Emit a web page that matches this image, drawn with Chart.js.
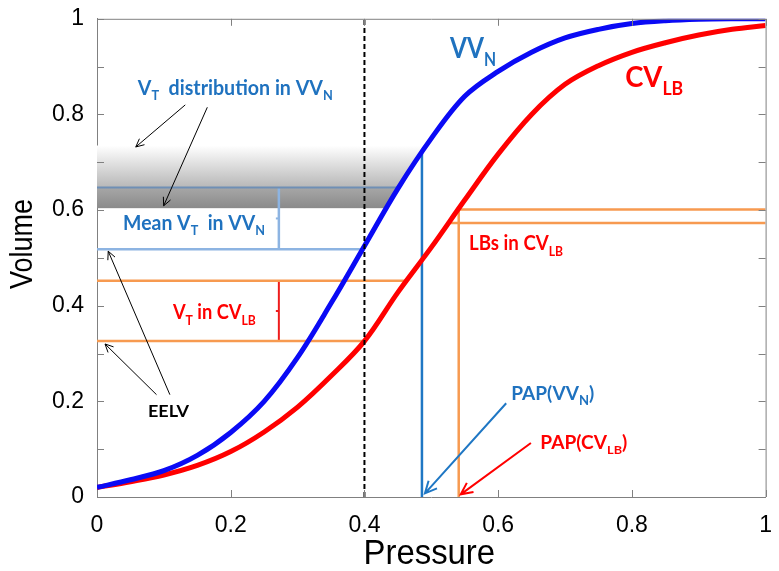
<!DOCTYPE html>
<html lang="en">
<head>
    <meta charset="UTF-8">
    <title>Pressure - Volume curves</title>
    <script src="https://cdn.jsdelivr.net/npm/chart.js"></script>
    <style>
        body { margin: 0; background: #fff; }
        #wrap { width: 779px; height: 571px; }
    </style>
</head>
<body>
<div id="wrap"><canvas id="pvChart" width="779" height="571"></canvas></div>

<script>
// pressure samples and the two volume curves
const pressure = [0, 0.05, 0.1, 0.15, 0.2, 0.25, 0.3, 0.35, 0.4, 0.45, 0.5,
                  0.55, 0.6, 0.65, 0.7, 0.75, 0.8, 0.85, 0.9, 0.95, 1];
const vvN  = [0.020, 0.036, 0.055, 0.087, 0.135, 0.200, 0.292, 0.405, 0.525, 0.645, 0.750,
              0.838, 0.890, 0.930, 0.960, 0.978, 0.990, 0.996, 0.999, 1.000, 1.000];
const cvLB = [0.020, 0.032, 0.046, 0.066, 0.095, 0.136, 0.188, 0.253, 0.326, 0.428, 0.522,
              0.621, 0.717, 0.800, 0.863, 0.902, 0.930, 0.950, 0.966, 0.978, 0.986];

// tick labels
const xTickLabels = ['0', '0.2', '0.4', '0.6', '0.8', '1'];
const yTickLabels = ['0', '0.2', '0.4', '0.6', '0.8', '1'];

// reference levels
const peepPressure = 0.4;
const eelvVVN = 0.518, meanVtVVN = 0.647, vvNMeanEnd = 0.451;
const eelvCVLB = 0.326, endInspCVLB = 0.452, cvLBEnd = 0.463;
const papVVN = 0.486, papVVNVolume = 0.721;
const papCVLB = 0.541, lbsTop = 0.601, lbsBottom = 0.573, lbsBottomStart = 0.523;
const vtBand = [0.604, 0.735];
const bracketX = 0.272;

const BLUE_TXT = '#1f72bf';
const ORANGE = '#f79a50';

function seg(x1, y1, x2, y2, color, width, dash) {
    return {
        data: [{x: x1, y: y1}, {x: x2, y: y2}],
        borderColor: color,
        borderWidth: width,
        borderDash: dash || [],
        pointRadius: 0,
        tension: 0,
        order: 5
    };
}

const refSets = [
    seg(0, meanVtVVN, vvNMeanEnd, meanVtVVN, '#6f8fb5', 2),
    seg(0, eelvVVN, peepPressure, eelvVVN, '#8db4e2', 2.5),
    seg(bracketX, eelvVVN, bracketX, meanVtVVN, '#8db4e2', 2.5),
    seg(0, endInspCVLB, cvLBEnd, endInspCVLB, ORANGE, 2.5),
    seg(0, eelvCVLB, peepPressure, eelvCVLB, ORANGE, 2.5),
    seg(bracketX, eelvCVLB, bracketX, endInspCVLB, '#ee1c1c', 2),
    seg(papVVN, 0, papVVN, papVVNVolume, '#1f77c4', 2.5),
    seg(papCVLB, 0, papCVLB, lbsTop, ORANGE, 2.5),
    seg(papCVLB, lbsTop, 1, lbsTop, ORANGE, 2.5),
    seg(lbsBottomStart, lbsBottom, 1, lbsBottom, ORANGE, 2.5)
];

// annotation texts: parts are [text, isSubscript]
const labels = [
    {parts: [['VV', 0], ['N', 1]], x: 0.528, y: 0.917, size: 28, w: 46, color: BLUE_TXT},
    {parts: [['CV', 0], ['LB', 1]], x: 0.790, y: 0.858, size: 28, w: 58, color: '#f00'},
    {parts: [['V', 0], ['T', 1], ['  distribution in VV', 0], ['N', 1]], x: 0.061, y: 0.841, size: 20, w: 195, color: BLUE_TXT},
    {parts: [['Mean V', 0], ['T', 1], ['  in VV', 0], ['N', 1]], x: 0.039, y: 0.559, size: 20, w: 142, color: BLUE_TXT},
    {parts: [['V', 0], ['T', 1], [' in CV', 0], ['LB', 1]], x: 0.1135, y: 0.373, size: 21, w: 83, color: '#f00'},
    {parts: [['LBs in CV', 0], ['LB', 1]], x: 0.5565, y: 0.516, size: 20, w: 94, color: '#f00'},
    {parts: [['EELV', 0]], x: 0.0763, y: 0.1666, size: 17, w: 41, color: '#000'},
    {parts: [['PAP(VV', 0], ['N', 1], [')', 0]], x: 0.6195, y: 0.2027, size: 19, w: 83, color: BLUE_TXT},
    {parts: [['PAP(CV', 0], ['LB', 1], [')', 0]], x: 0.663, y: 0.101, size: 18, w: 87, color: '#f00'}
];

// arrows: from -> to, in data units
const arrows = [
    {from: [0.132, 0.820], to: [0.058, 0.732], color: '#000', width: 1, head: 9},
    {from: [0.165, 0.815], to: [0.0997, 0.609], color: '#000', width: 1, head: 9},
    {from: [0.109, 0.214], to: [0.0168, 0.514], color: '#000', width: 1, head: 9},
    {from: [0.089, 0.214], to: [0.012, 0.320], color: '#000', width: 1, head: 9},
    {from: [0.612, 0.196], to: [0.4905, 0.0077], color: '#1f77c4', width: 2, head: 13},
    {from: [0.649, 0.113], to: [0.544, 0.0056], color: '#f00', width: 2, head: 13}
];

function drawArrow(ctx, x1, y1, x2, y2, head) {
    const a = Math.atan2(y2 - y1, x2 - x1);
    ctx.beginPath();
    ctx.moveTo(x1, y1);
    ctx.lineTo(x2, y2);
    ctx.moveTo(x2 - head * Math.cos(a - 0.45), y2 - head * Math.sin(a - 0.45));
    ctx.lineTo(x2, y2);
    ctx.lineTo(x2 - head * Math.cos(a + 0.45), y2 - head * Math.sin(a + 0.45));
    ctx.stroke();
}

function drawRich(ctx, lab, px, py) {
    const font = s => 'bold ' + s + 'px Lato, "Open Sans", sans-serif';
    const sub = Math.round(lab.size * 0.66);
    let total = 0;
    lab.parts.forEach(p => { ctx.font = font(p[1] ? sub : lab.size); total += ctx.measureText(p[0]).width; });
    ctx.save();
    ctx.translate(px, py);
    ctx.scale(lab.w / total, 1);
    ctx.fillStyle = lab.color;
    ctx.textBaseline = 'alphabetic';
    let x = 0;
    lab.parts.forEach(p => {
        ctx.font = font(p[1] ? sub : lab.size);
        ctx.fillText(p[0], x, p[1] ? lab.size * 0.28 : 0);
        x += ctx.measureText(p[0]).width;
    });
    ctx.restore();
}

const decorPlugin = {
    id: 'decor',
    beforeDatasetsDraw(chart) {
        const {ctx, chartArea: ca, scales: {x, y}} = chart;
        ctx.save();
        // clip to the region left of the VV_N curve
        ctx.beginPath();
        ctx.moveTo(ca.left, ca.top);
        ctx.lineTo(ca.right, ca.top);
        for (let i = pressure.length - 1; i >= 0; i--) {
            ctx.lineTo(x.getPixelForValue(pressure[i]), y.getPixelForValue(vvN[i]));
        }
        ctx.closePath();
        ctx.clip();
        const yLo = y.getPixelForValue(vtBand[0]);
        const yHi = y.getPixelForValue(vtBand[1]);
        const yMid = y.getPixelForValue(meanVtVVN);
        const g = ctx.createLinearGradient(0, yLo, 0, yHi);
        g.addColorStop(0, '#8a8a8a');
        g.addColorStop((yLo - yMid) / (yLo - yHi) - 0.01, '#a6a6a6');
        g.addColorStop((yLo - yMid) / (yLo - yHi) + 0.01, '#b8b8b8');
        g.addColorStop(1, '#ffffff');
        ctx.fillStyle = g;
        ctx.fillRect(ca.left, yHi, x.getPixelForValue(0.5) - ca.left, yLo - yHi);
        ctx.restore();
    },
    afterDatasetsDraw(chart) {
        const {ctx, chartArea: ca, scales: {x, y}} = chart;
        ctx.save();
        // bracket mid marks
        ctx.lineWidth = 2;
        [[eelvVVN, meanVtVVN, '#8db4e2'], [eelvCVLB, endInspCVLB, '#ee1c1c']].forEach(b => {
            const bx = x.getPixelForValue(bracketX);
            const by = y.getPixelForValue((b[0] + b[1]) / 2);
            ctx.strokeStyle = b[2];
            ctx.beginPath();
            ctx.moveTo(bx, by);
            ctx.lineTo(bx - 3, by);
            ctx.stroke();
        });
        // box and inward ticks
        ctx.strokeStyle = '#808080';
        ctx.lineWidth = 1;
        ctx.beginPath();
        ctx.moveTo(ca.left, ca.top + 0.5);
        ctx.lineTo(ca.right + 0.5, ca.top + 0.5);
        ctx.lineTo(ca.right + 0.5, ca.bottom);
        x.ticks.forEach(t => {
            const px = Math.round(x.getPixelForValue(t.value)) + 0.5;
            ctx.moveTo(px, ca.bottom); ctx.lineTo(px, ca.bottom - 7);
            ctx.moveTo(px, ca.top); ctx.lineTo(px, ca.top + 7);
        });
        y.ticks.forEach(t => {
            const py = Math.round(y.getPixelForValue(t.value)) + 0.5;
            ctx.moveTo(ca.left, py); ctx.lineTo(ca.left + 7, py);
            ctx.moveTo(ca.right, py); ctx.lineTo(ca.right - 7, py);
        });
        ctx.stroke();
        // arrows
        arrows.forEach(a => {
            ctx.strokeStyle = a.color;
            ctx.lineWidth = a.width;
            drawArrow(ctx, x.getPixelForValue(a.from[0]), y.getPixelForValue(a.from[1]),
                      x.getPixelForValue(a.to[0]), y.getPixelForValue(a.to[1]), a.head);
        });
        // texts
        labels.forEach(l => drawRich(ctx, l, x.getPixelForValue(l.x), y.getPixelForValue(l.y)));
        // axis titles
        ctx.fillStyle = '#000';
        ctx.font = '35px "Liberation Sans", Arial, sans-serif';
        ctx.textAlign = 'center';
        ctx.textBaseline = 'alphabetic';
        ctx.save();
        ctx.translate((ca.left + ca.right) / 2 - 2, chart.height - 7);
        ctx.scale(0.94, 1);
        ctx.fillText('Pressure', 0, 0);
        ctx.restore();
        ctx.save();
        ctx.translate(32, (ca.top + ca.bottom) / 2 - 14);
        ctx.rotate(-Math.PI / 2);
        ctx.scale(0.87, 1);
        ctx.font = '31px "Liberation Sans", Arial, sans-serif';
        ctx.fillText('Volume', 0, 0);
        ctx.restore();
        ctx.restore();
    }
};

const ctx = document.getElementById('pvChart').getContext('2d');
const chart = new Chart(ctx, {
    type: 'line',
    data: {
        datasets: [
            {
                label: 'VV_N',
                data: pressure.map((p, i) => ({x: p, y: vvN[i]})),
                borderColor: '#0a0af5',
                borderWidth: 5,
                pointRadius: 0,
                tension: 0.35,
                order: 2
            },
            {
                label: 'CV_LB',
                data: pressure.map((p, i) => ({x: p, y: cvLB[i]})),
                borderColor: '#ff0000',
                borderWidth: 5,
                pointRadius: 0,
                tension: 0.35,
                order: 3
            },
            Object.assign(seg(peepPressure, 0, peepPressure, 1, '#000', 2, [5, 3]), {order: 1}),
            ...refSets
        ]
    },
    options: {
        responsive: false,
        animation: false,
        layout: { padding: { left: 0, right: 10, top: 15, bottom: 0 } },
        plugins: { legend: { display: false }, tooltip: { enabled: false } },
        scales: {
            x: {
                type: 'linear', min: 0, max: 1,
                grid: { display: false },
                border: { display: true, color: '#808080' },
                afterFit: s => { s.height = 74; },
                ticks: {
                    stepSize: 0.2, padding: 7, color: '#000',
                    font: { family: '"Liberation Sans", Arial', size: 23 },
                    callback: (v) => xTickLabels[Math.round(v * 5)]
                }
            },
            y: {
                min: 0, max: 1,
                grid: { display: false },
                border: { display: true, color: '#808080' },
                afterFit: s => { s.width = 97; },
                ticks: {
                    stepSize: 0.1, padding: 5, color: '#000',
                    font: { family: '"Liberation Sans", Arial', size: 23 },
                    callback: (v) => {
                        const k = Math.round(v * 10);
                        return k % 2 === 0 ? yTickLabels[k / 2] : '';
                    }
                }
            }
        }
    },
    plugins: [decorPlugin]
});
</script>
</body>
</html>
